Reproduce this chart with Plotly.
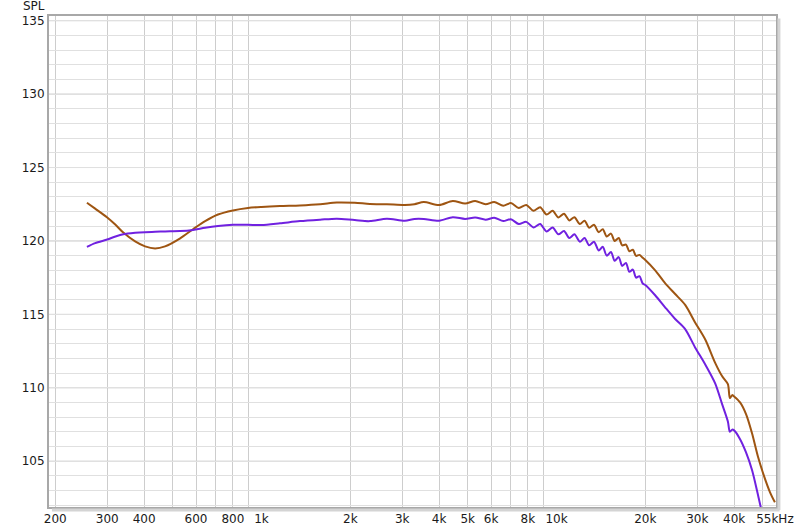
import math
import plotly.graph_objects as go

# ---- data ----
freq_hz = [256, 273, 300, 320, 340, 373, 403, 436, 471, 530, 586, 644, 712, 800, 900,
           1000, 1155, 1350, 1580, 1800, 2070, 2330, 2660, 3060, 3300,
           3550, 4000, 4450, 4900, 5300, 5750, 6150, 6600, 7000, 7450, 7900, 8350,
           8800, 9250, 9700, 10150, 10600, 11050, 11500, 12000, 12450, 12900, 13400,
           13900, 14350, 14800, 15300, 15750, 16250, 16700, 17200, 17650, 18150,
           18600, 19100, 19600, 20000, 21600, 23300, 25200, 27300, 29500, 31900,
           34500, 36400, 38100, 38700, 39400, 40000, 41900, 43900, 46000, 48200,
           50500, 52900, 55000]

spl_brown = [122.6, 122.2, 121.6, 121.1, 120.57, 119.97, 119.63, 119.49, 119.63, 120.18,
             120.8, 121.35, 121.8, 122.08, 122.25,
             122.32, 122.38, 122.42, 122.5, 122.62, 122.6, 122.52, 122.5, 122.45, 122.5,
             122.65, 122.45, 122.72, 122.55, 122.72, 122.5, 122.65, 122.4, 122.58, 122.25,
             122.45, 122.05, 122.3, 121.8, 122.05, 121.6, 121.85, 121.4, 121.62, 121.15,
             121.38, 120.9, 121.1, 120.6, 120.8, 120.3, 120.5, 120.0, 120.2, 119.7,
             119.75, 119.3, 119.4, 118.98, 119.05, 118.85, 118.7, 118.0, 117.15, 116.4,
             115.65, 114.45, 113.3, 111.7, 110.8, 110.25, 109.3, 109.5, 109.4, 109.0,
             108.2, 106.9, 105.3, 104.0, 102.9, 102.2]

spl_purple = [119.6, 119.85, 120.1, 120.3, 120.45, 120.55, 120.6, 120.63, 120.65, 120.67,
              120.75, 120.9, 121.02, 121.1, 121.1,
              121.08, 121.2, 121.35, 121.45, 121.52, 121.42, 121.35, 121.52, 121.38, 121.5,
              121.5, 121.38, 121.62, 121.5, 121.6, 121.45, 121.58, 121.35, 121.48, 121.15,
              121.3, 120.92, 121.15, 120.65, 120.92, 120.45, 120.68, 120.2, 120.45, 119.95,
              120.2, 119.7, 119.95, 119.35, 119.6, 119.0, 119.25, 118.65, 118.9, 118.3,
              118.5, 117.9, 118.05, 117.5, 117.6, 117.1, 117.0, 116.3, 115.5, 114.7,
              114.0, 112.75, 111.6, 110.3, 108.9, 107.7, 107.0, 107.15, 107.1, 106.5,
              105.6, 104.4, 102.7, 100.9, 99.5, 98.5]

x_tick_vals = [200, 300, 400, 600, 800, 1000, 2000, 3000, 4000, 5000, 6000, 8000,
               10000, 20000, 30000, 40000, 55000]
x_tick_text = ["200", "300", "400", "600", "800", "1k", "2k", "3k", "4k", "5k", "6k", "8k",
               "10k", "20k", "30k", "40k", "55kHz"]
x_minor_vals = [200, 300, 400, 500, 600, 700, 800, 900, 2000, 3000, 4000, 5000, 6000,
                7000, 8000, 9000, 20000, 30000, 40000, 50000]
x_major_vals = [1000, 10000]
y_tick_vals = [105, 110, 115, 120, 125, 130, 135]

color_brown = "#9E5512"
color_purple = "#7021E0"

fig = go.Figure()
fig.add_trace(go.Scatter(x=freq_hz, y=spl_brown, mode="lines",
                         line=dict(color=color_brown, width=2, shape="spline", smoothing=0.8),
                         showlegend=False))
fig.add_trace(go.Scatter(x=freq_hz, y=spl_purple, mode="lines",
                         line=dict(color=color_purple, width=2, shape="spline", smoothing=0.8),
                         showlegend=False))

shapes = []
for v in x_major_vals:
    shapes.append(dict(type="line", xref="x", yref="paper", x0=math.log10(v), x1=math.log10(v),
                       y0=0, y1=1, line=dict(color="#8c8c8c", width=1), layer="between"))
for v in y_tick_vals:
    shapes.append(dict(type="line", xref="paper", yref="y", x0=0, x1=1, y0=v, y1=v,
                       line=dict(color="#c4c4c4", width=1), layer="between"))
# soft frame shadow
shapes.append(dict(type="line", xref="paper", yref="paper", x0=1.004, x1=1.004, y0=-0.006, y1=0.995,
                   line=dict(color="#d4d4d4", width=3), layer="above"))
shapes.append(dict(type="line", xref="paper", yref="paper", x0=0.004, x1=1.005, y0=-0.006, y1=-0.006,
                   line=dict(color="#d4d4d4", width=3), layer="above"))

fig.update_layout(
    width=800, height=531,
    margin=dict(l=49, r=24, t=16, b=24),
    paper_bgcolor="white", plot_bgcolor="white",
    font=dict(family="DejaVu Sans", size=12, color="#1a1a1a"),
    shapes=shapes,
    annotations=[dict(text="SPL", xref="paper", yref="paper", x=-0.021, y=1.0, yshift=1,
                      xanchor="center", yanchor="bottom", showarrow=False,
                      font=dict(family="DejaVu Sans", size=12, color="#1a1a1a"))],
)
fig.update_xaxes(type="log", range=[math.log10(190.4), math.log10(55470)], automargin=False,
                 tickmode="array", tickvals=x_tick_vals, ticktext=x_tick_text,
                 showgrid=False, ticks="", zeroline=False,
                 showline=True, mirror=True, linecolor="#a8a8a8", linewidth=2,
                 minor=dict(tickmode="array", tickvals=x_minor_vals, showgrid=True,
                            gridcolor="#cdcdcd", gridwidth=1, ticks=""))
fig.update_yaxes(range=[101.88, 135.32], tickmode="array", tickvals=y_tick_vals, automargin=False,
                 showgrid=False, ticks="", zeroline=False,
                 showline=True, mirror=True, linecolor="#a8a8a8", linewidth=2,
                 minor=dict(dtick=1, showgrid=True, gridcolor="#e0e0e0", gridwidth=1, ticks=""))

fig.write_html("out.html", config={"displayModeBar": False},
               post_script="document.body.style.margin='0';document.body.style.overflow='hidden';")
